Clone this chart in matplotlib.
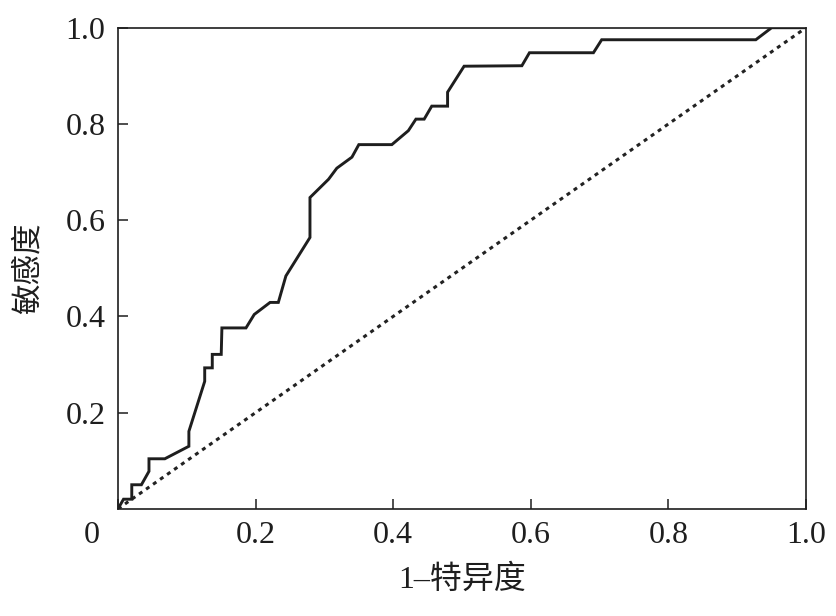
import matplotlib
matplotlib.use('Agg')
import matplotlib.pyplot as plt
import matplotlib.transforms as mtransforms

# ROC curve points (1 - specificity, sensitivity)
fpr = [0.0, 0.008, 0.020, 0.020, 0.034, 0.045, 0.045, 0.068, 0.103, 0.103,
       0.126, 0.126, 0.137, 0.137, 0.150, 0.151, 0.186, 0.198, 0.221, 0.233,
       0.244, 0.279, 0.279, 0.306, 0.318, 0.340, 0.350, 0.398, 0.422, 0.433,
       0.445, 0.456, 0.479, 0.479, 0.503, 0.587, 0.598, 0.691, 0.703, 0.927,
       0.950, 1.0]
tpr = [0.0, 0.020, 0.020, 0.050, 0.050, 0.078, 0.104, 0.104, 0.130, 0.161,
       0.265, 0.293, 0.293, 0.321, 0.321, 0.376, 0.376, 0.404, 0.429, 0.429,
       0.484, 0.564, 0.647, 0.685, 0.708, 0.731, 0.757, 0.757, 0.786, 0.810,
       0.810, 0.837, 0.837, 0.866, 0.920, 0.921, 0.948, 0.948, 0.975, 0.975,
       1.0, 1.0]
ref_line = [0.0, 1.0]

x_ticks = [0, 0.2, 0.4, 0.6, 0.8, 1.0]
x_labels = ['0', '0.2', '0.4', '0.6', '0.8', '1.0']
y_ticks = [0.2, 0.4, 0.6, 0.8, 1.0]
y_labels = ['0.2', '0.4', '0.6', '0.8', '1.0']

fonts = ['Liberation Serif', 'Noto Sans CJK SC', 'DejaVu Sans']
plt.rcParams['font.family'] = fonts

fig = plt.figure(figsize=(8.37, 6.16), dpi=100)
ax = fig.add_axes([0.141, 0.174, 0.822, 0.781])

ax.plot(ref_line, ref_line, color='#222222', lw=2.2, linestyle=(0, (1.3, 1.5)))
ax.plot(fpr, tpr, color='#1e1e1e', lw=2.1, solid_joinstyle='miter')

ax.set_xlim(0, 1)
ax.set_ylim(0, 1)
ax.set_xticks(x_ticks)
ax.set_xticklabels(x_labels)
ax.set_yticks(y_ticks)
ax.set_yticklabels(y_labels)
ax.tick_params(direction='in', length=7, width=1.1, labelsize=23, pad=9,
               colors='#1e1e1e')

# the "0" label sits left of the origin in the original
offset = mtransforms.ScaledTranslation(-0.26, 0, fig.dpi_scale_trans)
lbl0 = ax.get_xticklabels()[0]
lbl0.set_transform(lbl0.get_transform() + offset)

for sp in ax.spines.values():
    sp.set_linewidth(1.2)
    sp.set_color('#1e1e1e')

ax.set_xlabel('1–特异度', fontsize=23, labelpad=10, color='#1e1e1e')
ax.set_ylabel('敏感度', fontsize=22, labelpad=16, color='#1e1e1e')

fig.savefig('out.png', dpi=100)
plt.close(fig)
